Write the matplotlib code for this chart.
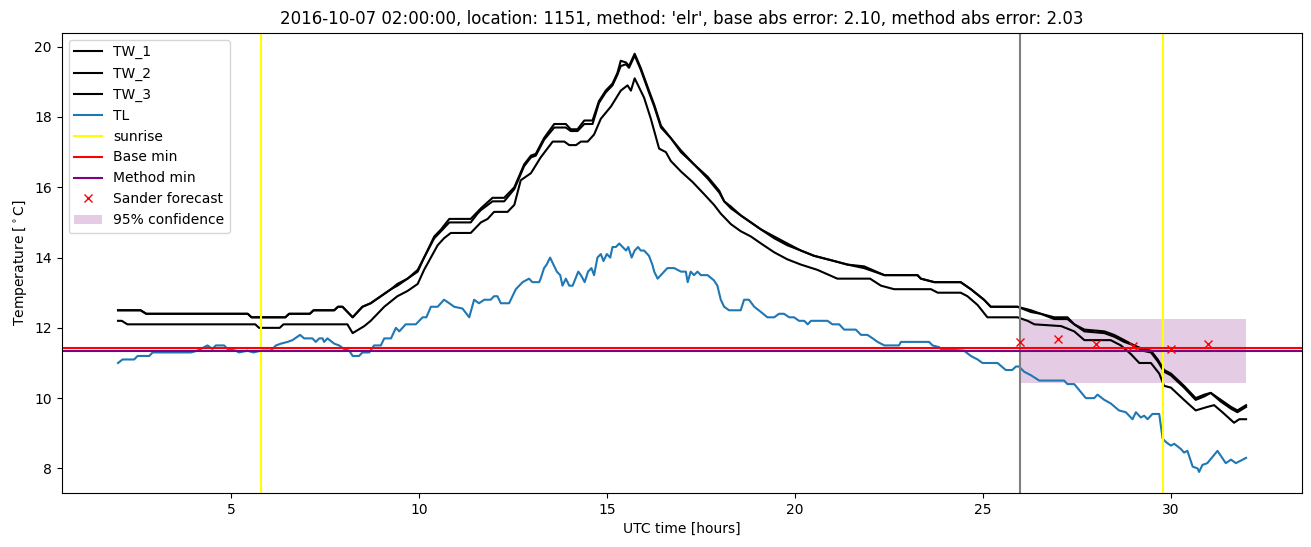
import numpy as np
import matplotlib
matplotlib.use("Agg")
import matplotlib.pyplot as plt

# wet-bulb temperatures (upper pair and lower one), hours UTC
tw1_t = [2.0, 2.6, 2.75, 5.45, 5.55, 6.45, 6.55, 7.1, 7.2, 7.75, 7.85, 7.97, 8.24, 8.5, 8.72,
         8.99, 9.26, 9.43, 9.7, 9.97, 10.14, 10.41, 10.59, 10.81, 11.38, 11.56, 11.65, 11.96,
         12.27, 12.54, 12.8, 12.98, 13.11, 13.33, 13.6, 13.91, 14.04, 14.22, 14.4, 14.62, 14.79,
         14.97, 15.15, 15.28, 15.37, 15.51, 15.59, 15.74, 15.9, 16.12, 16.26, 16.44, 16.7, 16.97,
         17.32, 17.68, 17.99, 18.12, 18.3, 18.56, 18.83, 19.1, 19.45, 19.8, 20.16, 20.51, 21.05,
         21.4, 21.84, 22.38, 23.26, 23.35, 23.71, 24.41, 24.68, 25.03, 25.21, 25.92, 26.28, 26.54,
         26.9, 27.25, 27.43, 27.7, 28.23, 28.49, 28.76, 29.02, 29.25, 29.47, 29.65, 29.82, 30.0,
         30.35, 30.66, 30.89, 31.06, 31.33, 31.6, 31.77, 32.0]
tw1 = [12.5, 12.5, 12.4, 12.4, 12.3, 12.3, 12.4, 12.4, 12.5, 12.5, 12.6, 12.6, 12.3, 12.6, 12.7,
       12.9, 13.1, 13.25, 13.4, 13.65, 14.0, 14.6, 14.8, 15.1, 15.1, 15.3, 15.4, 15.7,
       15.7, 16.0, 16.65, 16.9, 16.95, 17.4, 17.8, 17.8, 17.65, 17.65, 17.9, 17.9, 18.45,
       18.75, 18.95, 19.25, 19.6, 19.55, 19.45, 19.8, 19.4, 18.75, 18.35, 17.75, 17.4, 17.05,
       16.65, 16.3, 15.9, 15.6, 15.45, 15.2, 15.0, 14.8, 14.6, 14.4, 14.2, 14.05, 13.9,
       13.8, 13.75, 13.5, 13.5, 13.4, 13.3, 13.3, 13.1, 12.8, 12.6, 12.6, 12.5, 12.4,
       12.3, 12.3, 12.1, 11.95, 11.9, 11.8, 11.65, 11.5, 11.4, 11.35, 11.1, 10.8, 10.7,
       10.35, 10.0, 10.1, 10.15, 9.95, 9.75, 9.65, 9.8]

tw2_t = [2.0, 2.6, 2.75, 5.45, 5.55, 6.45, 6.55, 7.1, 7.2, 7.75, 7.85, 7.97, 8.24, 8.5, 8.72,
         8.99, 9.26, 9.43, 9.7, 9.97, 10.14, 10.41, 10.59, 10.81, 11.38, 11.56, 11.65, 11.96,
         12.27, 12.54, 12.8, 12.98, 13.11, 13.33, 13.6, 13.91, 14.04, 14.22, 14.4, 14.62, 14.79,
         14.97, 15.15, 15.28, 15.37, 15.51, 15.59, 15.74, 15.9, 16.12, 16.26, 16.44, 16.7, 16.97,
         17.32, 17.68, 17.99, 18.12, 18.3, 18.56, 18.83, 19.1, 19.45, 19.8, 20.16, 20.51, 21.05,
         21.4, 21.84, 22.38, 23.26, 23.35, 23.71, 24.41, 24.68, 25.03, 25.21, 25.92, 26.28, 26.54,
         26.9, 27.25, 27.43, 27.7, 28.23, 28.49, 28.76, 29.02, 29.25, 29.47, 29.65, 29.82, 30.0,
         30.35, 30.66, 30.89, 31.06, 31.33, 31.6, 31.77, 32.0]
tw2 = [12.5, 12.5, 12.4, 12.4, 12.3, 12.3, 12.4, 12.4, 12.5, 12.5, 12.6, 12.6, 12.3, 12.6, 12.7,
       12.9, 13.1, 13.2, 13.4, 13.6, 14.0, 14.55, 14.75, 15.0, 15.0, 15.25, 15.35, 15.6,
       15.6, 15.95, 16.6, 16.85, 16.9, 17.35, 17.7, 17.7, 17.6, 17.6, 17.8, 17.8, 18.4,
       18.7, 18.9, 19.2, 19.45, 19.5, 19.4, 19.75, 19.35, 18.7, 18.3, 17.7, 17.4, 17.0,
       16.65, 16.25, 15.85, 15.6, 15.4, 15.2, 15.0, 14.8, 14.55, 14.35, 14.2, 14.05, 13.9,
       13.8, 13.7, 13.5, 13.5, 13.4, 13.3, 13.3, 13.1, 12.8, 12.6, 12.6, 12.45, 12.4,
       12.25, 12.25, 12.1, 11.9, 11.85, 11.75, 11.6, 11.5, 11.35, 11.3, 11.05, 10.75, 10.65,
       10.3, 9.95, 10.05, 10.15, 9.9, 9.7, 9.6, 9.75]

tw3_t = [2.0, 2.1, 2.25, 5.65, 5.75, 6.3, 6.4, 8.1, 8.24, 8.55, 8.72, 9.08, 9.43, 9.7, 9.97,
         10.14, 10.32, 10.5, 10.67, 10.85, 11.38, 11.56, 11.65, 11.83, 12.0, 12.36, 12.54, 12.71,
         12.98, 13.24, 13.56, 13.87, 14.0, 14.18, 14.31, 14.49, 14.66, 14.84, 15.11, 15.37, 15.55,
         15.64, 15.74, 15.99, 16.17, 16.39, 16.57, 16.7, 16.97, 17.28, 17.59, 17.85, 18.03, 18.3,
         18.56, 18.83, 19.1, 19.45, 19.8, 20.16, 20.6, 21.13, 22.0, 22.29, 22.64, 23.62, 23.8,
         24.41, 24.59, 24.86, 25.12, 25.92, 26.19, 26.37, 27.08, 27.43, 27.7, 28.4, 28.67, 28.94,
         29.16, 29.47, 29.69, 29.82, 30.0, 30.35, 30.66, 30.97, 31.15, 31.37, 31.68, 31.82, 32.0]
tw3 = [12.2, 12.2, 12.1, 12.1, 12.0, 12.0, 12.1, 12.1, 11.85, 12.05, 12.2, 12.6, 12.9, 13.05, 13.25,
       13.65, 14.0, 14.35, 14.55, 14.7, 14.7, 14.9, 15.0, 15.1, 15.3, 15.3, 15.5, 16.2,
       16.4, 16.85, 17.3, 17.3, 17.2, 17.2, 17.3, 17.3, 17.5, 17.95, 18.3, 18.75, 18.9,
       18.75, 19.1, 18.55, 17.95, 17.1, 17.0, 16.75, 16.45, 16.15, 15.8, 15.5, 15.25, 14.95,
       14.75, 14.6, 14.4, 14.15, 13.95, 13.8, 13.65, 13.4, 13.4, 13.2, 13.1, 13.1, 13.0,
       13.0, 12.9, 12.65, 12.3, 12.3, 12.2, 12.1, 12.05, 11.9, 11.65, 11.65, 11.5, 11.25,
       11.0, 11.0, 10.7, 10.35, 10.3, 9.95, 9.65, 9.75, 9.8, 9.6, 9.3, 9.4, 9.4]

# air temperature
tl_t = [2.0, 2.12, 2.43, 2.52, 2.83, 2.92, 3.94, 4.11, 4.38, 4.51, 4.6, 4.82, 4.91, 5.13, 5.22,
        5.44, 5.6, 5.8, 6.06, 6.2, 6.33, 6.51, 6.64, 6.77, 6.84, 6.95, 7.17, 7.26, 7.35, 7.44,
        7.48, 7.57, 7.75, 7.88, 8.01, 8.15, 8.24, 8.41, 8.5, 8.68, 8.81, 8.99, 9.08, 9.26, 9.39,
        9.48, 9.65, 9.92, 10.1, 10.2, 10.32, 10.5, 10.67, 10.81, 10.94, 11.16, 11.34, 11.47, 11.6,
        11.74, 11.91, 12.0, 12.09, 12.18, 12.4, 12.58, 12.76, 12.93, 13.02, 13.2, 13.24, 13.33,
        13.4, 13.49, 13.58, 13.67, 13.76, 13.82, 13.91, 14.0, 14.09, 14.24, 14.31, 14.41, 14.5,
        14.59, 14.66, 14.75, 14.84, 14.91, 15.0, 15.09, 15.15, 15.24, 15.33, 15.42, 15.51, 15.57,
        15.66, 15.74, 15.83, 15.9, 15.99, 16.12, 16.21, 16.26, 16.35, 16.48, 16.61, 16.79, 16.97,
        17.1, 17.15, 17.23, 17.32, 17.41, 17.5, 17.68, 17.85, 17.94, 18.03, 18.12, 18.25, 18.56,
        18.65, 18.78, 18.92, 19.1, 19.27, 19.45, 19.58, 19.71, 19.85, 19.98, 20.11, 20.25, 20.34,
        20.43, 20.87, 21.0, 21.18, 21.31, 21.62, 21.76, 21.93, 22.07, 22.2, 22.38, 22.77, 22.82,
        23.57, 23.66, 23.84, 23.88, 24.5, 24.68, 24.86, 24.99, 25.39, 25.61, 25.78, 25.88, 25.96,
        26.1, 26.28, 26.5, 27.16, 27.25, 27.43, 27.74, 27.96, 28.05, 28.23, 28.4, 28.62, 28.8,
        28.98, 29.07, 29.2, 29.29, 29.38, 29.51, 29.69, 29.78, 29.87, 30.0, 30.09, 30.27, 30.35,
        30.44, 30.58, 30.71, 30.75, 30.84, 30.97, 31.24, 31.46, 31.6, 31.73, 32.0]
tl = [11.0, 11.1, 11.1, 11.2, 11.2, 11.3, 11.3, 11.35, 11.5, 11.4, 11.5, 11.5, 11.4, 11.35, 11.3,
      11.35, 11.3, 11.35, 11.35, 11.5, 11.55, 11.6, 11.65, 11.75, 11.8, 11.7, 11.7, 11.6, 11.7, 11.7,
      11.6, 11.7, 11.55, 11.5, 11.4, 11.35, 11.2, 11.2, 11.3, 11.3, 11.5, 11.5, 11.7, 11.7, 12.0,
      11.9, 12.1, 12.1, 12.3, 12.3, 12.6, 12.6, 12.8, 12.7, 12.6, 12.55, 12.3, 12.8, 12.7,
      12.8, 12.8, 12.9, 12.9, 12.7, 12.7, 13.1, 13.3, 13.4, 13.3, 13.3, 13.4, 13.7,
      13.8, 14.0, 13.8, 13.6, 13.5, 13.2, 13.4, 13.2, 13.2, 13.6, 13.5, 13.3, 13.6,
      13.7, 13.5, 14.0, 14.1, 13.9, 14.1, 14.0, 14.3, 14.3, 14.4, 14.3, 14.2, 14.3,
      14.0, 14.2, 14.3, 14.2, 14.2, 14.05, 13.8, 13.6, 13.4, 13.55, 13.7, 13.7, 13.6,
      13.6, 13.3, 13.6, 13.5, 13.6, 13.5, 13.5, 13.35, 13.2, 12.8, 12.6, 12.5, 12.5,
      12.8, 12.8, 12.6, 12.45, 12.3, 12.3, 12.4, 12.4, 12.3, 12.3, 12.2, 12.2, 12.1,
      12.2, 12.2, 12.1, 12.1, 11.95, 11.95, 11.8, 11.8, 11.7, 11.6, 11.5, 11.5, 11.6,
      11.6, 11.5, 11.45, 11.4, 11.35, 11.2, 11.1, 11.0, 11.0, 10.8, 10.8, 10.9, 10.9,
      10.75, 10.65, 10.5, 10.5, 10.4, 10.4, 10.0, 10.0, 10.1, 9.95, 9.85, 9.65, 9.6,
      9.4, 9.6, 9.45, 9.5, 9.4, 9.55, 9.55, 8.85, 8.75, 8.65, 8.7, 8.55, 8.45,
      8.5, 8.05, 8.0, 7.9, 8.1, 8.15, 8.5, 8.15, 8.25, 8.15, 8.3]

sunrise = [5.8, 29.8]
forecast_start = 26.0
base_min = 11.42
method_min = 11.33
sander_t = [26, 27, 28, 29, 30, 31]
sander = [11.6, 11.67, 11.53, 11.47, 11.41, 11.53]
conf_t = [26.0, 32.0]
conf_lo = 10.43
conf_hi = 12.26

fig, ax = plt.subplots(figsize=(13.11, 5.47), dpi=100)
fig.subplots_adjust(left=0.047, right=0.9935, top=0.94, bottom=0.099)

ax.plot(tw1_t, tw1, color="black", label="TW_1")
ax.plot(tw2_t, tw2, color="black", label="TW_2")
ax.plot(tw3_t, tw3, color="black", label="TW_3")
ax.plot(tl_t, tl, color="C0", label="TL")
ax.axvline(sunrise[0], color="yellow", label="sunrise")
ax.axvline(sunrise[1], color="yellow")
ax.axvline(forecast_start, color="grey")
ax.axhline(base_min, color="red", label="Base min")
ax.axhline(method_min, color="purple", label="Method min")
ax.plot(sander_t, sander, "rx", label="Sander forecast")
ax.fill_between(conf_t, conf_lo, conf_hi, color="purple", alpha=0.2, linewidth=0,
                label="95% confidence")

ax.set_title("2016-10-07 02:00:00, location: 1151, method: 'elr', "
             "base abs error: 2.10, method abs error: 2.03")
ax.set_xlabel("UTC time [hours]")
ax.set_ylabel(r"Temperature [$^\circ$C]")
ax.legend(loc="upper left")

plt.savefig("out.png")
